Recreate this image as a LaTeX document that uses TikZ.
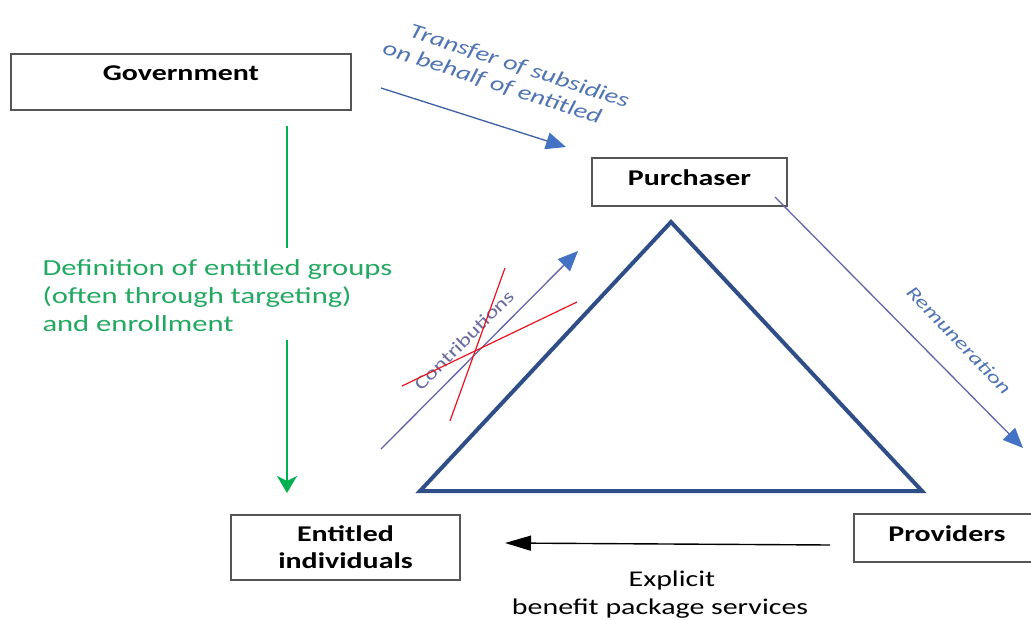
\documentclass[tikz,border=0pt]{standalone}
\usepackage{fontspec}
\setmainfont{Carlito}[FakeStretch=1.33]
\usetikzlibrary{arrows.meta}

\definecolor{boxline}{RGB}{85,85,85}
\definecolor{tri}{RGB}{47,78,135}
\definecolor{flowblue}{RGB}{61,95,166}
\definecolor{headblue}{RGB}{68,114,196}
\definecolor{labelblue}{RGB}{79,115,179}
\definecolor{slate}{RGB}{98,100,170}
\definecolor{defgreen}{RGB}{0,176,80}
\definecolor{deftext}{RGB}{34,168,96}
\definecolor{crossred}{RGB}{235,20,30}

\tikzset{
  actor/.style={draw=boxline, line width=1.3pt, fill=white, rectangle,
    inner sep=0pt, font=\fontsize{22.5}{27}\selectfont\bfseries, align=center},
  flowlabel/.style={text=labelblue, font=\fontsize{21}{24}\selectfont\itshape, align=left},
  bluearrow/.style={draw=flowblue, line width=1.3pt,
    -{Triangle[length=20pt,width=17pt,fill=headblue,color=headblue]}},
}

\begin{document}
\begin{tikzpicture}[x=1pt, y=-1pt]
\useasboundingbox (0,0) rectangle (1031,619);
\clip (0,0) rectangle (1031,619);

% actors
\node[actor, minimum width=340pt, minimum height=56pt, text height=16pt, text depth=20pt]
  (gov) at (181,82) {Government};
\node[actor, minimum width=195pt, minimum height=48pt, text height=16pt, text depth=10pt]
  (pur) at (689.5,182) {Purchaser};
\node[actor, minimum width=229pt, minimum height=65pt]
  (ent) at (345.5,547.5) {Entitled\\individuals};
\node[actor, minimum width=186pt, minimum height=48pt, text height=16pt, text depth=10pt]
  (prov) at (947,538) {Providers};

% triangle of relations
\coordinate (apex) at (671,222);
\coordinate (bl) at (420,491);
\coordinate (br) at (922,491);
\draw[tri, line width=4pt, line join=miter] (apex) -- (br) -- (bl) -- cycle;

% government -> purchaser
\coordinate (t1) at (381,88);
\coordinate (t2) at (566,147);
\draw[bluearrow] (t1) -- (t2);
\node[flowlabel, rotate=-18, anchor=center] (transfer) at (506,75)
  {\hspace*{20pt}Transfer of subsidies\\on behalf of entitled};

% purchaser -> providers
\coordinate (r1) at (775,197);
\coordinate (r2) at (1023,448);
\draw[bluearrow, draw=slate] (r1) -- (r2);
\node[flowlabel, font=\fontsize{18.5}{22}\selectfont\itshape, rotate=-46] (remun) at (959,340)
  {Remuneration};

% contributions (crossed out)
\coordinate (c1) at (381,449);
\coordinate (c2) at (578,251);
\draw[bluearrow, draw=slate] (c1) -- (c2);
\node[text=slate!80!gray, font=\fontsize{18}{22}\selectfont, rotate=45] (contrib) at (464,340)
  {Contributions};
\coordinate (xa1) at (402,386);
\coordinate (xa2) at (577,302);
\coordinate (xb1) at (450,421);
\coordinate (xb2) at (505,268);
\draw[crossred, line width=1.2pt] (xa1) -- (xa2);
\draw[crossred, line width=1.2pt] (xb1) -- (xb2);

% government -> entitled individuals
\coordinate (g1) at (287,126);
\coordinate (g2) at (287,248);
\coordinate (g3) at (287,340);
\coordinate (g4) at (287,493);
\draw[defgreen, line width=1.7pt] (g1) -- (g2);
\draw[defgreen, line width=1.7pt, -{Stealth[length=17pt,width=20pt,inset=5pt]}] (g3) -- (g4);
\node[text=deftext, font=\fontsize{23}{28}\selectfont, align=left, anchor=west] (def) at (39,296)
  {Definition of entitled groups\\(often through targeting)\\and enrollment};

% providers -> entitled individuals
\coordinate (p1) at (830,545);
\coordinate (p2) at (505,543);
\draw[black, line width=1.4pt, -{Triangle[length=26pt,width=15pt]}] (p1) -- (p2);
\node[font=\fontsize{22.5}{28}\selectfont, align=center] (explicit) at (660,595)
  {\hspace*{24pt}Explicit\\benefit package services};
\end{tikzpicture}
\end{document}
